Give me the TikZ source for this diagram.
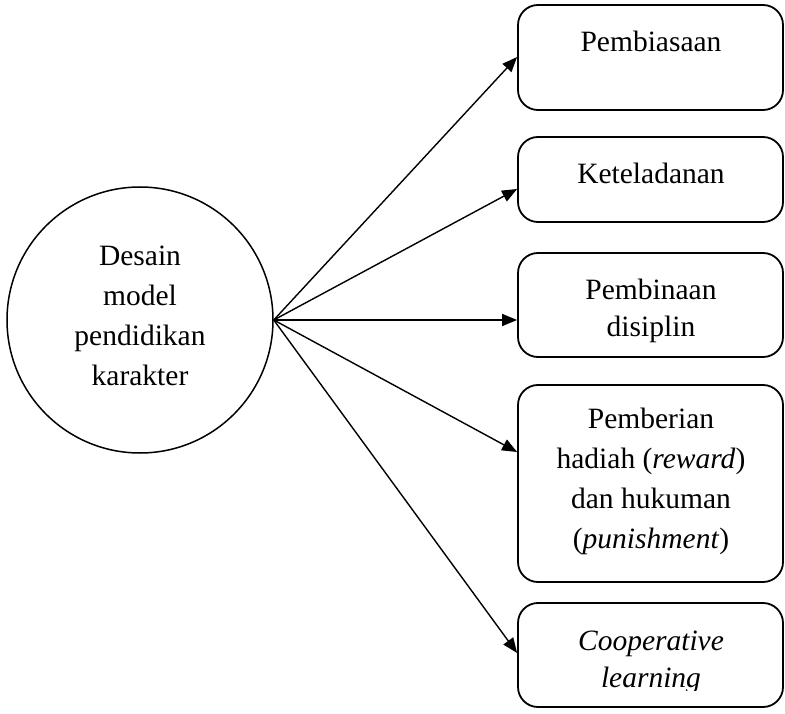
\documentclass[tikz,border=0pt]{standalone}
\usepackage{fontspec}
\setmainfont{Liberation Serif}
\usetikzlibrary{arrows.meta}
\begin{document}
\begin{tikzpicture}[x=1pt,y=-1pt,
  hubnode/.style={draw, circle, line width=1.5pt, minimum size=266pt, inner sep=0pt},
  box/.style={draw, line width=1.8pt, rounded corners=20pt, inner sep=0pt, minimum width=265pt},
  lbl/.style={font=\fontsize{29.5}{40}\selectfont, align=center, anchor=base, inner sep=0pt},
  lbltwo/.style={lbl, font=\fontsize{29.5}{37}\selectfont},
  link/.style={line width=1.4pt, -{Triangle[length=15pt,width=12pt]}}]
\useasboundingbox (0,0) rectangle (785,714);

% centre circle (multi-line labels are placed by the baseline of their last line)
\node[hubnode] (hub) at (140,320) {};
\node[lbl] (hubtext) at (140,385) {Desain\\model\\pendidikan\\karakter};

% boxes on the right
\node[box, minimum height=105pt] (b1) at (650.5,57.5) {};
\node[box, minimum height=85pt]  (b2) at (650.5,179.5) {};
\node[box, minimum height=104pt] (b3) at (650.5,305) {};
\node[box, minimum height=197pt] (b4) at (650.5,483.5) {};
\node[box, minimum height=104pt] (b5) at (650.5,655) {};

% box labels
\node[lbl] (l1) at (651,52) {Pembiasaan};
\node[lbl] (l2) at (651,184) {Keteladanan};
\begin{scope}
  \clip (518,250) rectangle (783,343);
  \node[lbltwo] (l3) at (651,337) {Pembinaan\\disiplin};
\end{scope}
\node[lbl] (l4) at (651,548) {Pemberian\\hadiah (\textit{reward})\\dan hukuman\\(\textit{punishment})};
\begin{scope}
  \clip (518,600) rectangle (783,690);
  \node[lbltwo] (l5) at (651,687) {\textit{Cooperative}\\\textit{learning}};
\end{scope}

% arrow end points on the box edges
\coordinate (t1) at (b1.west |- 0,57);
\coordinate (t2) at (b2.west |- 0,189);
\coordinate (t3) at (b3.west |- 0,320);
\coordinate (t4) at (b4.west |- 0,452);
\coordinate (t5) at (b5.west |- 0,653);

\foreach \t in {t1,t2,t3,t4,t5}
  \draw[link] (hub.east) -- (\t);
\end{tikzpicture}
\end{document}
